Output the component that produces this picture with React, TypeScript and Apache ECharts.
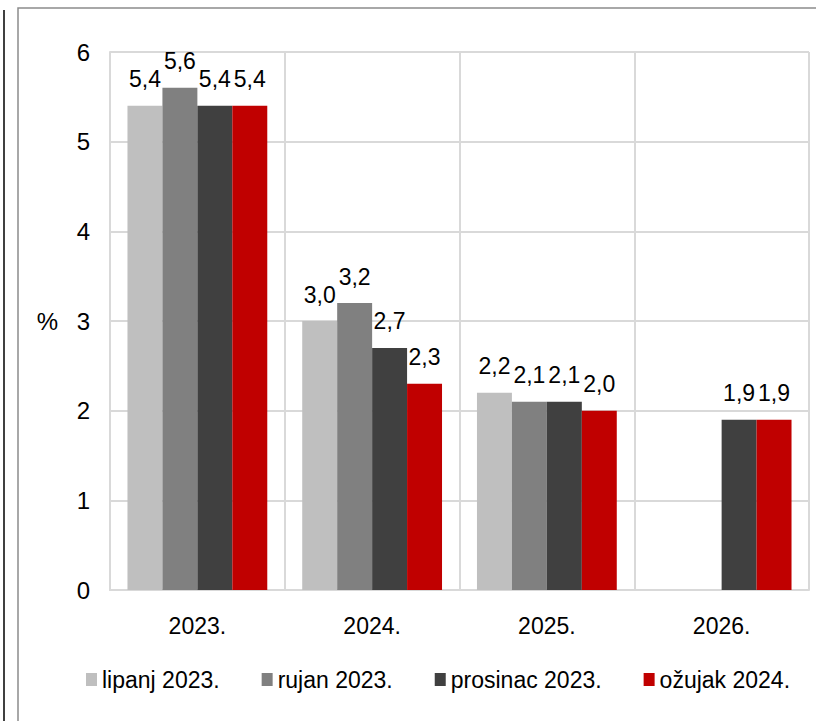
import React, { useEffect, useRef } from "react";
import * as echarts from "echarts";

const categories = ["2023.", "2024.", "2025.", "2026."];
const seriesNames = ["lipanj 2023.", "rujan 2023.", "prosinac 2023.", "ožujak 2024."];
const lipanj2023 = [5.4, 3.0, 2.2, null];
const rujan2023 = [5.6, 3.2, 2.1, null];
const prosinac2023 = [5.4, 2.7, 2.1, 1.9];
const ozujak2024 = [5.4, 2.3, 2.0, 1.9];
const colors = ["#BFBFBF", "#808080", "#404040", "#C00000"];

const FONT = "'Liberation Sans', Arial, sans-serif";

export default function App() {
  const ref = useRef<HTMLDivElement>(null);
  useEffect(() => {
    if (!ref.current) return;
    const chart = echarts.init(ref.current, null, { renderer: "svg" });
    const dataSets = [lipanj2023, rujan2023, prosinac2023, ozujak2024];
    chart.setOption({
      animation: false,
      backgroundColor: "#ffffff",
      textStyle: { fontFamily: FONT },
      graphic: [
        {
          type: "line",
          shape: { x1: 4, y1: 10, x2: 4, y2: 721 },
          style: { stroke: "#000000", lineWidth: 1.5 },
          silent: true,
        },
        {
          type: "rect",
          shape: { x: 18, y: 8, width: 820, height: 740 },
          style: { fill: "none", stroke: "#8C8C8C", lineWidth: 1.5 },
          silent: true,
        },
      ],
      legend: {
        data: seriesNames,
        left: 81,
        top: 663,
        width: 730,
        itemWidth: 11,
        itemHeight: 13,
        itemGap: 42,
        icon: "rect",
        textStyle: { fontFamily: FONT, fontSize: 23, color: "#000000" },
      },
      grid: { left: 110, right: 7, top: 52, bottom: 131, containLabel: false },
      xAxis: {
        type: "category",
        data: categories,
        axisTick: { show: false },
        axisLine: { show: true, lineStyle: { color: "#D9D9D9", width: 2 } },
        axisLabel: { fontFamily: FONT, fontSize: 23, color: "#000000", margin: 24 },
        splitLine: { show: true, lineStyle: { color: "#D9D9D9", width: 2 } },
      },
      yAxis: {
        type: "value",
        min: 0,
        max: 6,
        interval: 1,
        name: "%",
        nameLocation: "middle",
        nameRotate: 0,
        nameGap: 52,
        nameTextStyle: { fontFamily: FONT, fontSize: 24, color: "#000000" },
        axisLine: { show: true, lineStyle: { color: "#D9D9D9", width: 2 } },
        axisTick: { show: false },
        axisLabel: { fontFamily: FONT, fontSize: 24, color: "#000000", margin: 20 },
        splitLine: { show: true, lineStyle: { color: "#D9D9D9", width: 2 } },
      },
      series: seriesNames.map((name, i) => ({
        name,
        type: "bar",
        data: dataSets[i],
        barGap: "0%",
        barCategoryGap: "20%",
        itemStyle: { color: colors[i] },
        label: {
          show: true,
          position: "top",
          distance: 15,
          fontFamily: FONT,
          fontSize: 23,
          color: "#000000",
          formatter: (p: any) =>
            p.value == null ? "" : Number(p.value).toFixed(1).replace(".", ","),
        },
      })),
    });
    return () => chart.dispose();
  }, []);
  return (
    <div
      ref={ref}
      style={{ position: "fixed", left: 0, top: 0, width: 816, height: 721 }}
    />
  );
}
